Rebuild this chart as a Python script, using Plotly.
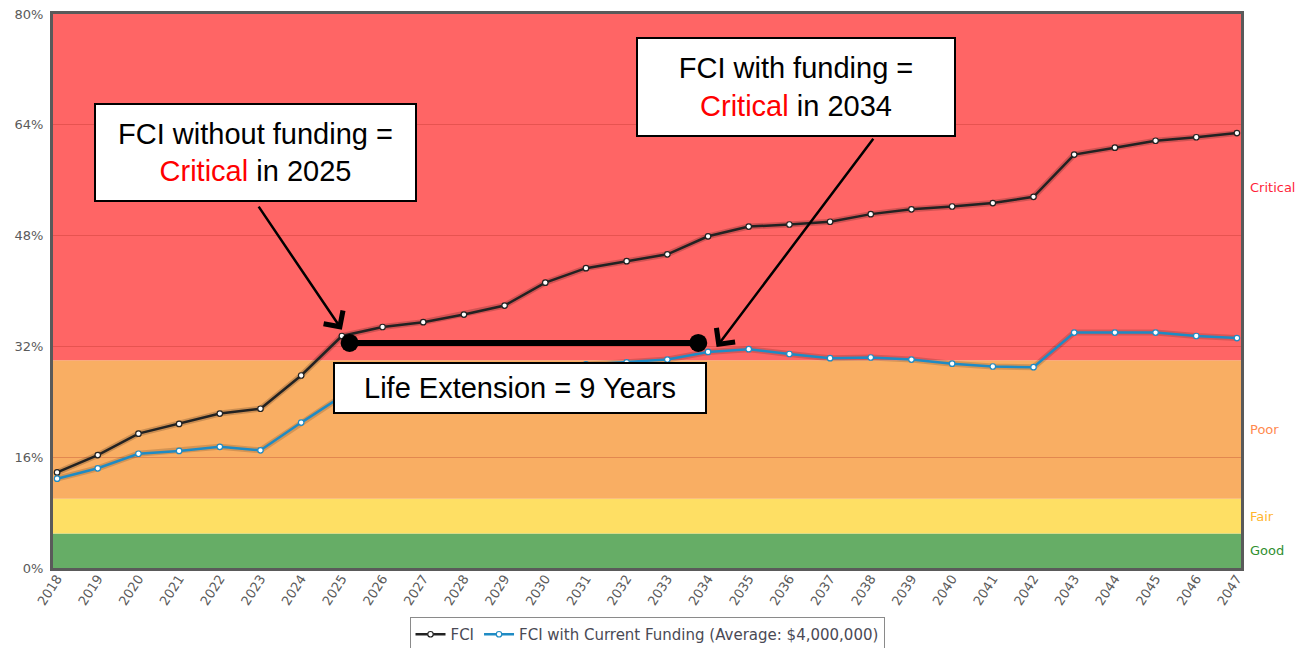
import plotly.graph_objects as go

years = list(range(2018, 2048))
fci = [13.8, 16.3, 19.4, 20.8, 22.3, 23.0, 27.8, 33.5, 34.8, 35.5,
       36.6, 37.9, 41.2, 43.3, 44.3, 45.3, 47.9, 49.3, 49.6, 50.0,
       51.1, 51.8, 52.2, 52.7, 53.6, 59.7, 60.7, 61.7, 62.2, 62.8]
fci_funded = [12.9, 14.4, 16.5, 16.9, 17.5, 17.0, 21.0, 24.8, 26.3, 27.2,
              27.9, 28.5, 29.0, 29.4, 29.7, 30.1, 31.2, 31.6, 30.9, 30.3,
              30.4, 30.1, 29.5, 29.1, 29.0, 34.0, 34.0, 34.0, 33.5, 33.2]

band_names = ["Good", "Fair", "Poor", "Critical"]
band_lo = [0, 5, 10, 30]
band_hi = [5, 10, 30, 80]
band_fill = ["#66ad66", "#fedf64", "#f9ae63", "#ff6565"]
band_text = ["#2f8f2f", "#ffb52e", "#ff8a4f", "#ff1f3a"]

y_ticks = [0, 16, 32, 48, 64, 80]

# life-extension marker (start / end of the extension bar)
ext_x = [2025.19, 2033.76]
ext_y = [32.5, 32.5]

fig = go.Figure()

for lo, hi, c in zip(band_lo, band_hi, band_fill):
    fig.add_shape(type="rect", xref="paper", yref="y", x0=0, x1=1, y0=lo, y1=hi,
                  fillcolor=c, line_width=0, layer="below")

# soft shadows under the lines
fig.add_trace(go.Scatter(x=years, y=fci, mode="lines", line=dict(color="rgba(0,0,0,0.18)", width=6),
                         showlegend=False, hoverinfo="skip"))
fig.add_trace(go.Scatter(x=years, y=fci_funded, mode="lines", line=dict(color="rgba(0,0,0,0.15)", width=6),
                         showlegend=False, hoverinfo="skip"))

fig.add_trace(go.Scatter(x=years, y=fci, mode="lines+markers", name="FCI",
                         line=dict(color="#222222", width=2.5),
                         marker=dict(symbol="circle", size=5.5, color="white",
                                     line=dict(color="#222222", width=1.2))))
fig.add_trace(go.Scatter(x=years, y=fci_funded, mode="lines+markers",
                         name="FCI with Current Funding (Average: $4,000,000)",
                         line=dict(color="#1f8bc4", width=2.5),
                         marker=dict(symbol="circle", size=5.5, color="white",
                                     line=dict(color="#1f8bc4", width=1.2))))

fig.add_trace(go.Scatter(x=ext_x, y=ext_y, mode="lines+markers",
                         line=dict(color="black", width=6),
                         marker=dict(size=18, color="black"),
                         showlegend=False, hoverinfo="skip"))

ann_font = dict(family="Liberation Sans, Arial, sans-serif", size=29, color="black")

# arrows
fig.add_annotation(x=2025.0, y=34.4, ax=2022.93, ay=52.4, xref="x", yref="y",
                   axref="x", ayref="y", text="", showarrow=True,
                   arrowhead=4, arrowsize=1.8, arrowwidth=2.5, arrowcolor="black")
fig.add_annotation(x=2034.21, y=31.9, ax=2038.09, ay=62.2, xref="x", yref="y",
                   axref="x", ayref="y", text="", showarrow=True,
                   arrowhead=4, arrowsize=1.8, arrowwidth=2.5, arrowcolor="black")

fig.add_annotation(x=2022.87, y=60.0, xref="x", yref="y", showarrow=False,
                   text="FCI without funding =<br><span style='color:#ff0000'>Critical</span> in 2025",
                   font=ann_font, bgcolor="white", bordercolor="black", borderwidth=2,
                   borderpad=0, width=319, height=95, align="center")
fig.add_annotation(x=2036.17, y=69.5, xref="x", yref="y", showarrow=False,
                   text="FCI with funding =<br><span style='color:#ff0000'>Critical</span> in 2034",
                   font=ann_font, bgcolor="white", bordercolor="black", borderwidth=2,
                   borderpad=0, width=316, height=96, align="center")
fig.add_annotation(x=2029.37, y=26.0, xref="x", yref="y", showarrow=False,
                   text="Life Extension = 9 Years",
                   font=ann_font, bgcolor="white", bordercolor="black", borderwidth=2,
                   borderpad=0, width=370, height=48, align="center")

for name, lo, hi, c in zip(band_names, band_lo, band_hi, band_text):
    fig.add_annotation(x=1, y=(lo + hi) / 2, xref="paper", yref="y", xanchor="left",
                       xshift=7, showarrow=False, text=name,
                       font=dict(family="DejaVu Sans, Verdana, sans-serif", size=13, color=c))

# page body has an 8px default margin, so the figure is offset by 8px
fig.update_layout(
    width=1302, height=640,
    margin=dict(l=45, r=69, t=6, b=80),
    paper_bgcolor="white", plot_bgcolor="white",
    font=dict(family="DejaVu Sans, Verdana, sans-serif", size=13, color="#555555"),
    showlegend=True,
    legend=dict(orientation="h", x=0.5, xanchor="center", xref="paper",
                y=0.0484, yref="container", yanchor="top",
                bgcolor="white", bordercolor="#8a8a8a", borderwidth=1,
                font=dict(size=15, color="#4a4a55"), itemwidth=30),
)
fig.update_xaxes(range=[2017.9, 2047.1], tickmode="array", tickvals=years,
                 ticktext=[str(y) for y in years], tickangle=-57, showgrid=False,
                 zeroline=False, showline=True, linecolor="#5a5a5a", linewidth=3,
                 mirror=True, ticks="", automargin=False, ticklabelstandoff=-5,
                 ticklabeloverflow="allow",
                 tickfont=dict(size=13, color="#5a5a5a"))
fig.update_yaxes(range=[0, 80], tickmode="array", tickvals=y_ticks,
                 ticktext=[f"{v}%" for v in y_ticks], showgrid=True,
                 gridcolor="rgba(170,40,30,0.28)", gridwidth=1, zeroline=False,
                 showline=True, linecolor="#5a5a5a", linewidth=3, mirror=True,
                 ticks="", automargin=False, ticklabelstandoff=4,
                 ticklabeloverflow="allow",
                 tickfont=dict(size=13, color="#5a5a5a"))

fig.write_html("out.html")
